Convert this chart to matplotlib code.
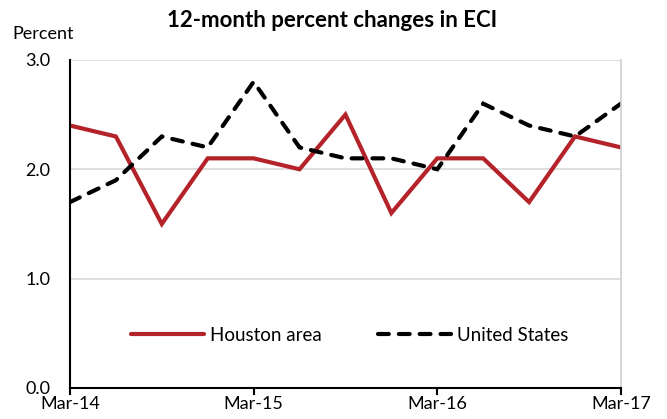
import numpy as np
import matplotlib.pyplot as plt

plt.rcParams['font.family'] = ['Lato', 'DejaVu Sans']

quarters = np.arange(13)
houston = [2.4, 2.3, 1.5, 2.1, 2.1, 2.0, 2.5, 1.6, 2.1, 2.1, 1.7, 2.3, 2.2]
us = [1.7, 1.9, 2.3, 2.2, 2.8, 2.2, 2.1, 2.1, 2.0, 2.6, 2.4, 2.3, 2.6]
xlabels = ["Mar-14", "Mar-15", "Mar-16", "Mar-17"]

fig = plt.figure(figsize=(6.67, 4.19), dpi=100)
ax = fig.add_axes([0.1049, 0.074, 0.826, 0.783])

ax.plot(quarters, houston, color="#b5232a", lw=3.0, label="Houston area",
        solid_capstyle="round", solid_joinstyle="miter")
ax.plot(quarters, us, color="black", lw=3.0, ls=(0, (2.6, 2.4)), label="United States",
        dash_capstyle="round", dash_joinstyle="miter")

ax.set_xlim(0, 12)
ax.set_ylim(0, 3.0)
ax.set_yticks([0, 1.0, 2.0, 3.0])
ax.set_yticklabels(["0.0", "1.0", "2.0", "3.0"])
ax.set_xticks([0, 4, 8, 12])
ax.set_xticklabels(xlabels)
ax.tick_params(axis="y", length=0, labelsize=13, pad=14)
ax.tick_params(axis="x", direction="out", length=5, width=1.5, labelsize=13, pad=1)
ax.grid(axis="y", color="#d9d9d9", lw=1.2)
ax.set_axisbelow(True)

ax.spines["top"].set_visible(False)
ax.spines["right"].set_color("#d0d0d0")
ax.spines["right"].set_linewidth(1.2)
ax.spines["left"].set_linewidth(1.5)
ax.spines["bottom"].set_linewidth(1.5)

ax.legend(loc="center", bbox_to_anchor=(0.508, 0.161), ncol=2, frameon=False,
          fontsize=13.5, handlelength=3.9, handletextpad=0.32, columnspacing=3.0)

fig.text(0.498, 0.952, "12-month percent changes in ECI", ha="center", va="center",
         fontsize=16, fontweight="bold")
fig.text(0.019, 0.919, "Percent", ha="left", va="center", fontsize=13)

fig.savefig("out.png", dpi=100)
